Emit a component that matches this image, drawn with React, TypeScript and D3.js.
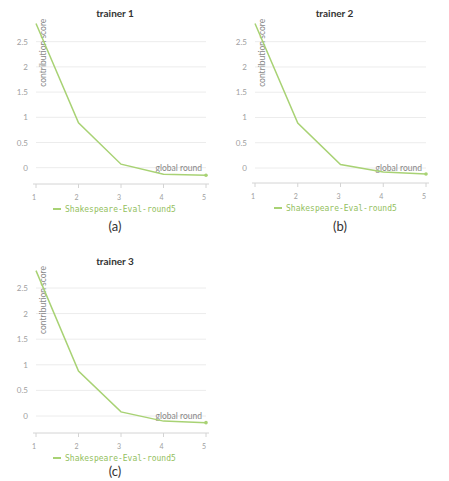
import React from "react";
import * as d3 from "d3";

const rounds = [1, 2, 3, 4, 5];
const trainer1 = [2.86, 0.89, 0.07, -0.13, -0.15];
const trainer2 = [2.86, 0.89, 0.07, -0.08, -0.12];
const trainer3 = [2.84, 0.88, 0.08, -0.1, -0.13];
const yTicks = [0, 0.5, 1, 1.5, 2, 2.5];
const titles = ["trainer 1", "trainer 2", "trainer 3"];
const captions = ["(a)", "(b)", "(c)"];
const seriesName = "Shakespeare-Eval-round5";

const GREEN = "#a8d274";

// panel frames (left, right, zero line, 2.5 line, bottom axis, caption baseline)
const panels = [
  { data: trainer1, x0: 36, x1: 206, y0: 167.7, y25: 41.7, axisY: 184, capY: 231, dy: 0, dx: 0 },
  { data: trainer2, x0: 255, x1: 426, y0: 168, y25: 41.7, axisY: 183, capY: 231, dy: 0, dx: 221 },
  { data: trainer3, x0: 36, x1: 206, y0: 416, y25: 288, axisY: 433, capY: 476, dy: 248, dx: 0 },
];

function Panel({ p, i }: { p: any; i: number }) {
  const x = d3.scaleLinear().domain([1, 5]).range([p.x0, p.x1]);
  const y = d3.scaleLinear().domain([0, 2.5]).range([p.y0, p.y25]);
  const line = d3
    .line<number>()
    .x((_, j) => x(rounds[j]))
    .y((d) => y(d));
  const cx = (p.x0 + p.x1) / 2;
  const last = p.data[p.data.length - 1];

  return (
    <g>
      <text x={cx - 6} y={17 + p.dy} textAnchor="middle" fontSize={10} fontWeight="bold" fill="#333">
        {titles[i]}
      </text>
      {yTicks.map((t) => (
        <g key={t}>
          <line x1={p.x0} x2={p.x1} y1={y(t)} y2={y(t)} stroke="#ececec" strokeWidth={1} />
          <text x={p.x0 - 8} y={y(t) + 3} textAnchor="end" fontSize={8} fill="#a0a0a0">
            {t}
          </text>
        </g>
      ))}
      <line x1={p.x0 - 3} x2={p.x1 + 3} y1={p.axisY} y2={p.axisY} stroke="#d4d4d4" />
      {rounds.map((r) => (
        <g key={r}>
          <line x1={x(r)} x2={x(r)} y1={p.axisY} y2={p.axisY + 4} stroke="#d4d4d4" />
          <text x={x(r) - 2} y={p.axisY + 16} textAnchor="middle" fontSize={7} fill="#a0a0a0">
            {r}
          </text>
        </g>
      ))}
      <text
        transform={`translate(${p.x0 + 10},${(p.y25 + p.y0) / 2 - 52}) rotate(-90)`}
        textAnchor="middle"
        fontSize={8.5}
        fill="#888"
      >
        contribution score
      </text>
      <text x={p.x1 - 4} y={p.y0 + 3} textAnchor="end" fontSize={8.5} fill="#888">
        global round
      </text>
      <path d={line(p.data) || ""} fill="none" stroke={GREEN} strokeWidth={1.5} />
      <circle cx={x(5)} cy={y(last)} r={1.8} fill={GREEN} />
      <line x1={53 + p.dx} x2={61 + p.dx} y1={p.axisY + 25} y2={p.axisY + 25} stroke={GREEN} strokeWidth={2} />
      <text x={65 + p.dx} y={p.axisY + 28} fontSize={8} fontFamily="DejaVu Sans Mono" fill="#93c060">
        {seriesName}
      </text>
      <text x={115 + p.dx + (i === 1 ? 4 : 0)} y={p.capY} textAnchor="middle" fontSize={13} fill="#333">
        {captions[i]}
      </text>
    </g>
  );
}

export default function App() {
  return (
    <svg
      width={449}
      height={481}
      style={{ position: "absolute", left: 0, top: 0, background: "#fff" }}
      fontFamily="Lato, sans-serif"
    >
      {panels.map((p, i) => (
        <Panel key={i} p={p} i={i} />
      ))}
    </svg>
  );
}
